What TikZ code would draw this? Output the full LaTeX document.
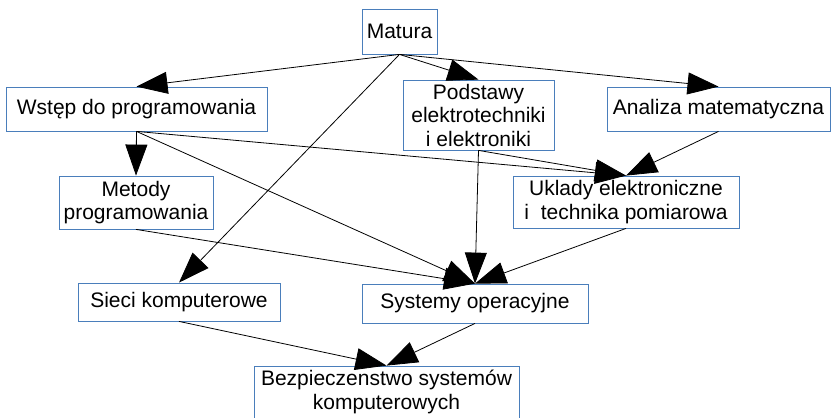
\documentclass[tikz,border=0pt]{standalone}
\usepackage{fontspec}
\setmainfont{Liberation Sans}
\usepackage{xcolor}
\usepackage{tikz}
\usetikzlibrary{arrows.meta}

\definecolor{ramka}{RGB}{74,126,187}

\begin{document}
\begin{tikzpicture}[x=1pt,y=-1pt,
  kurs/.style={draw=ramka,line width=0.8pt,fill=white,inner sep=0pt,align=center,
    font=\fontsize{21}{23.5}\selectfont},
  strz/.style={line width=0.8pt,-{Triangle[length=31pt,width=22pt]}}]
  \useasboundingbox (0,0) rectangle (834,417);
  \node[kurs,minimum width=75pt,minimum height=45pt] (matura) at (399.5,31.5) {Matura};
  \node[kurs,minimum width=261pt,minimum height=44pt] (wstep) at (136.5,109) {Wstęp do programowania};
  \node[kurs,minimum width=151pt,minimum height=70pt] (podstawy) at (478.5,115) {Podstawy\\elektrotechniki\\i elektroniki};
  \node[kurs,minimum width=223pt,minimum height=44pt] (analiza) at (718.5,109) {Analiza matematyczna};
  \node[kurs,minimum width=154pt,minimum height=53pt] (metody) at (136,202.5) {Metody\\programowania};
  \node[kurs,minimum width=226pt,minimum height=52pt] (uklady) at (626,202) {Uklady elektroniczne\\i\ \ technika pomiarowa};
  \node[kurs,minimum width=202pt,minimum height=38pt] (sieci) at (179,302) {Sieci komputerowe};
  \node[kurs,minimum width=226pt,minimum height=39pt] (systemy) at (475,303.5) {Systemy operacyjne};
  \node[kurs,minimum width=265pt,minimum height=52pt] (bezp) at (386.5,392) {Bezpieczenstwo systemów\\komputerowych};
  \foreach \a/\b in {matura/wstep,matura/podstawy,matura/analiza,matura/sieci,
    wstep/metody,wstep/uklady,wstep/systemy,podstawy/uklady,podstawy/systemy,
    analiza/uklady,metody/systemy,uklady/systemy,sieci/bezp,systemy/bezp}
    {\draw[strz] (\a.south) -- (\b.north);}
\end{tikzpicture}
\end{document}
